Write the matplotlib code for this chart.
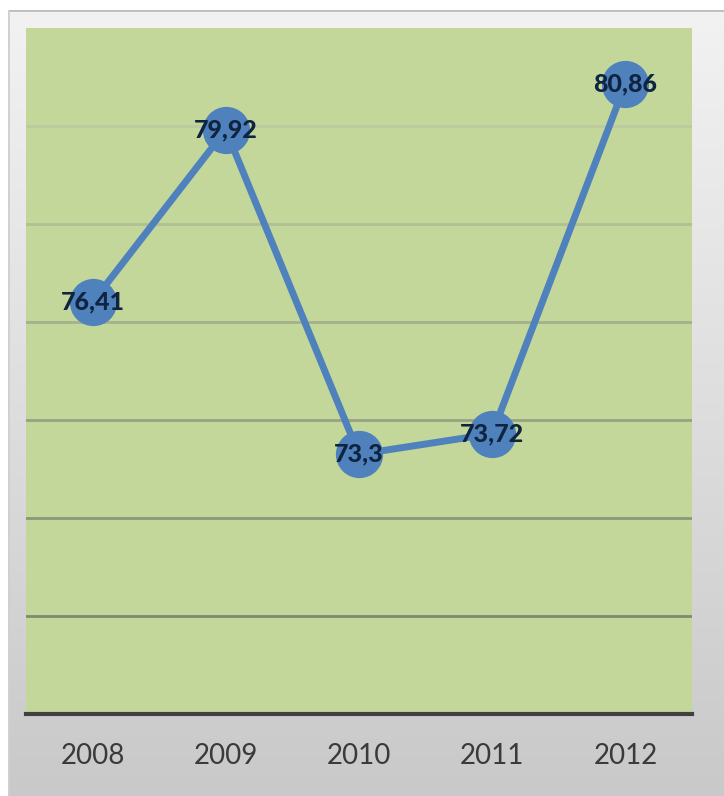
import numpy as np
import matplotlib
matplotlib.use("Agg")
import matplotlib.pyplot as plt

years = ["2008", "2009", "2010", "2011", "2012"]
values = [76.41, 79.92, 73.3, 73.72, 80.86]
labels = ["76,41", "79,92", "73,3", "73,72", "80,86"]
grid_levels = [70, 72, 74, 76, 78, 80]
grid_colors = ["#7f8a70", "#8c977a", "#98a383", "#a5b18b", "#b1bf94", "#bccb9f"]

fig = plt.figure(figsize=(7.24, 7.96), dpi=100)
fig.patch.set_facecolor("white")

# grey frame with a soft vertical gradient
frame = fig.add_axes([8 / 724, 0, 716 / 724, 786 / 796])
grad = np.linspace(0, 1, 256).reshape(-1, 1)
frame.imshow(grad, aspect="auto", cmap=matplotlib.colors.LinearSegmentedColormap.from_list(
    "frame", ["#f2f2f2", "#dedede", "#c9c9c9"]), extent=[0, 1, 0, 1], origin="upper")
frame.plot([0, 1], [1, 1], color="#bdbdbd", lw=2, transform=frame.transAxes)
frame.plot([0, 0], [0, 1], color="#d0d0d0", lw=2, transform=frame.transAxes)
frame.axis("off")

ax = fig.add_axes([26 / 724, 1 - 714 / 796, 666 / 724, 686 / 796])
ax.set_facecolor("#c4d79b")
ax.set_xlim(-0.5, 4.5)
ax.set_ylim(68, 82)

for lvl, c in zip(grid_levels, grid_colors):
    ax.axhline(lvl, color=c, lw=2, zorder=1)

x = np.arange(len(years))
ax.plot(x, values, color="#4f81bd", lw=5, marker="o", markersize=33,
        markerfacecolor="#4f81bd", markeredgecolor="#4f81bd", zorder=3,
        solid_capstyle="round")

for xi, v, t in zip(x, values, labels):
    ax.text(xi, v, t, ha="center", va="center", fontsize=18, fontweight="black",
            color="#0f243e", family=["Lato", "DejaVu Sans"], zorder=4)

for s in ["top", "left", "right"]:
    ax.spines[s].set_visible(False)
ax.spines["bottom"].set_color("#404040")
ax.spines["bottom"].set_linewidth(3)
ax.set_yticks([])
ax.set_xticks(x)
ax.set_xticklabels(years, fontsize=20, color="#3a3a3a", family=["Lato", "DejaVu Sans"])
ax.tick_params(axis="x", length=0, pad=21)

fig.savefig("out.png", dpi=100)
